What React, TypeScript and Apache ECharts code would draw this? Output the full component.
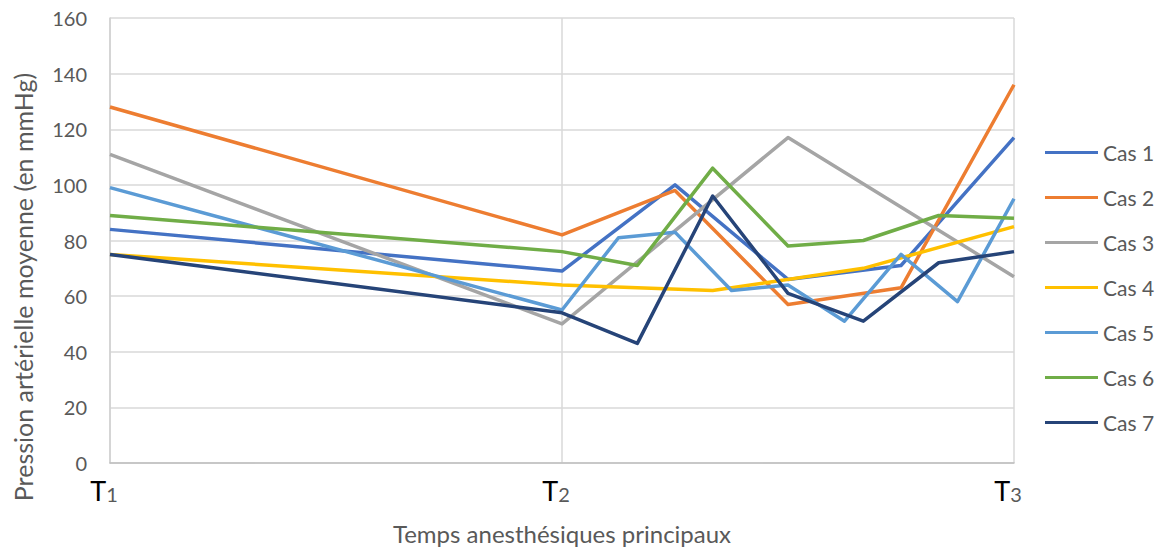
import React, { useEffect, useRef } from "react";
import * as echarts from "echarts";

// Series names and colours
const SERIES_NAMES = ["Cas 1", "Cas 2", "Cas 3", "Cas 4", "Cas 5", "Cas 6", "Cas 7"];
const COLORS = ["#4472C4", "#ED7D31", "#A5A5A5", "#FFC000", "#5B9BD5", "#70AD47", "#264478"];

// Values: first at T1, second at T2, the rest evenly spread between T2 and T3 (last at T3)
const CAS1 = [84, 69, 100, 66, 71, 117];
const CAS2 = [128, 82, 98, 57, 63, 136];
const CAS3 = [111, 50, 117, 67];
const CAS4 = [75, 64, 62, 70, 85];
const CAS5 = [99, 55, 81, 83, 62, 64, 51, 75, 58, 95];
const CAS6 = [89, 76, 71, 106, 78, 80, 89, 88];
const CAS7 = [75, 54, 43, 96, 61, 51, 72, 76];
const VALUES = [CAS1, CAS2, CAS3, CAS4, CAS5, CAS6, CAS7];

// Tick labels
const TICK_LETTER = "T";
const TICK_NUMBERS = ["1", "2", "3"];

const Y_TITLE = "Pression artérielle moyenne (en mmHg)";
const X_TITLE = "Temps anesthésiques principaux";

const FONT = "Lato";

function toPoints(vals: number[]): [number, number][] {
  // T1 at 0, T2 at 1, remaining points placed in order between T2 and T3
  const rest = vals.length - 1;
  return vals.map((v, i) => {
    if (i === 0) return [0, v];
    return [1 + (i - 1) / (rest - 1), v];
  });
}

export default function App() {
  const ref = useRef<HTMLDivElement>(null);
  useEffect(() => {
    if (!ref.current) return;
    const chart = echarts.init(ref.current, undefined, { renderer: "svg" });
    chart.setOption({
      animation: false,
      backgroundColor: "#ffffff",
      textStyle: { fontFamily: FONT },
      grid: { left: 110, right: 148, top: 18, bottom: 88, containLabel: false },
      legend: {
        orient: "vertical",
        left: 1045,
        top: 142,
        padding: 0,
        icon: "rect",
        itemWidth: 53,
        itemHeight: 3,
        itemGap: 24,
        data: SERIES_NAMES,
        textStyle: { fontFamily: FONT, fontSize: 21, color: "#595959", lineHeight: 20 },
      },
      xAxis: {
        type: "value",
        min: 0,
        max: 2,
        interval: 1,
        name: X_TITLE,
        nameLocation: "middle",
        nameGap: 58,
        nameTextStyle: { fontFamily: FONT, fontSize: 24, color: "#595959" },
        axisLine: { show: true, lineStyle: { color: "#BFBFBF", width: 1.5 } },
        axisTick: { show: false },
        splitLine: { show: true, lineStyle: { color: "#D9D9D9", width: 1.5 } },
        axisLabel: {
          margin: 14,
          padding: [0, 12, 0, 0],
          formatter: (v: number) => `{t|${TICK_LETTER}}{n|${TICK_NUMBERS[Math.round(v)] ?? ""}}`,
          rich: {
            t: { fontFamily: FONT, fontSize: 27, color: "#000000", lineHeight: 27, verticalAlign: "bottom" },
            n: { fontFamily: FONT, fontSize: 20, color: "#595959", lineHeight: 20, verticalAlign: "bottom" },
          },
        },
      },
      yAxis: {
        type: "value",
        min: 0,
        max: 160,
        interval: 20,
        axisLine: { show: true, lineStyle: { color: "#D0D0D0", width: 1.5 } },
        axisTick: { show: false },
        splitLine: { show: true, lineStyle: { color: "#D9D9D9", width: 1.5 } },
        axisLabel: { margin: 23, fontFamily: FONT, fontSize: 20, color: "#595959" },
      },
      graphic: [
        {
          type: "text",
          x: 23,
          y: 287,
          rotation: Math.PI / 2,
          style: {
            text: Y_TITLE,
            fontFamily: FONT,
            fontSize: 25,
            fill: "#595959",
            align: "center",
            verticalAlign: "middle",
          },
        },
      ],
      series: VALUES.map((vals, i) => ({
        name: SERIES_NAMES[i],
        type: "line",
        data: toPoints(vals),
        symbol: "none",
        showSymbol: false,
        color: COLORS[i],
        lineStyle: { color: COLORS[i], width: 3.5, join: "round" },
      })),
    });
    return () => chart.dispose();
  }, []);
  return <div ref={ref} style={{ width: 1162, height: 551, position: "absolute", left: 0, top: 0 }} />;
}
